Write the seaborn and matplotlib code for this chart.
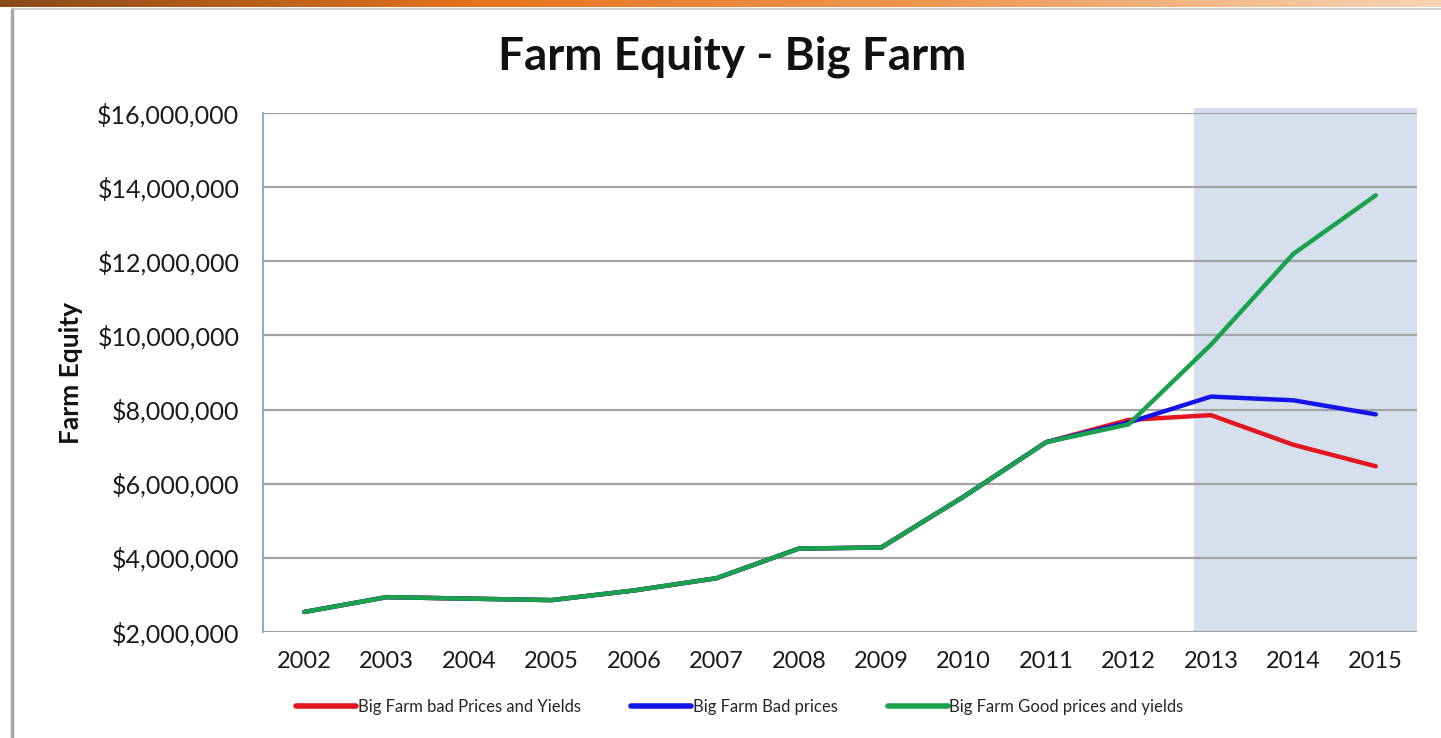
import numpy as np
import pandas as pd
import matplotlib
matplotlib.use("Agg")
import matplotlib.pyplot as plt
import seaborn as sns
from matplotlib.ticker import FuncFormatter
from matplotlib.lines import Line2D
from matplotlib.colors import LinearSegmentedColormap

# ---- data ----
years = [2002, 2003, 2004, 2005, 2006, 2007, 2008, 2009, 2010, 2011, 2012, 2013, 2014, 2015]
bad_prices_yields = [2.54, 2.94, 2.90, 2.86, 3.12, 3.45, 4.25, 4.28, 5.65, 7.12, 7.72, 7.85, 7.05, 6.47]
bad_prices = [2.54, 2.94, 2.90, 2.86, 3.12, 3.45, 4.25, 4.28, 5.65, 7.12, 7.65, 8.35, 8.25, 7.87]
good_prices_yields = [2.54, 2.94, 2.90, 2.86, 3.12, 3.45, 4.25, 4.28, 5.65, 7.12, 7.60, 9.75, 12.2, 13.78]
series_names = ["Big Farm bad Prices and Yields", "Big Farm Bad prices", "Big Farm Good prices and yields"]
series_colors = ["#E3151E", "#1414E8", "#19A24B"]
y_ticks = [2e6, 4e6, 6e6, 8e6, 10e6, 12e6, 14e6, 16e6]
shade_start, shade_end = 2012.8, 2015.5

rows = []
for name, vals in zip(series_names, [bad_prices_yields, bad_prices, good_prices_yields]):
    for y, v in zip(years, vals):
        rows.append({"Year": y, "Equity": v * 1e6, "Series": name})
df = pd.DataFrame(rows)

sns.set_theme(style="white")
plt.rcParams['font.family'] = ['Lato', 'DejaVu Sans']

fig = plt.figure(figsize=(14.41, 7.38), dpi=100)
ax = fig.add_axes([263 / 1441, 1 - 632 / 738, (1417 - 263) / 1441, (632 - 113) / 738])

# shaded forecast region
ax.axvspan(shade_start, shade_end, ymin=0, ymax=1.01, color="#D5DFEE", zorder=0, clip_on=False, lw=0)

for yt in y_ticks:
    ax.axhline(yt, color="#A3A3A3", lw=1.6, zorder=1)

sns.lineplot(data=df, x="Year", y="Equity", hue="Series", palette=dict(zip(series_names, series_colors)),
             hue_order=series_names, linewidth=3.2, ax=ax, legend=False, zorder=3)

ax.set_xlim(2001.5, 2015.5)
ax.set_ylim(2e6, 16e6)
ax.set_xticks(years)
ax.set_xticklabels([str(y) for y in years], fontsize=17, color="#1a1a1a")
ax.set_yticks(y_ticks)
ax.yaxis.set_major_formatter(FuncFormatter(lambda v, p: "${:,.0f}".format(v)))
ax.tick_params(axis="y", labelsize=18, colors="#1a1a1a", length=8, width=1.2, pad=9)
ax.tick_params(axis="y", color="#8AA8D0")
ax.tick_params(axis="x", length=0, pad=14)
for s in ["top", "right", "bottom"]:
    ax.spines[s].set_visible(False)
ax.spines["left"].set_color("#8AA8D0")
ax.spines["left"].set_linewidth(1.4)
ax.set_xlabel("")
ax.set_ylabel("Farm Equity", fontsize=19, fontweight="bold", labelpad=10, color="#111111")

fig.text(0.508, 1 - 57 / 738, "Farm Equity - Big Farm", ha="center", va="center",
         fontsize=33, fontweight="bold", color="#111111")

handles = [Line2D([0], [0], color=c, lw=4) for c in series_colors]
fig.legend(handles, series_names, loc="center", bbox_to_anchor=(0.5135, 1 - 707 / 738), ncol=3,
           frameon=False, fontsize=12, handlelength=3.6, handletextpad=0.1, columnspacing=3.0)

# top orange banner and left border
bax = fig.add_axes([0, 1 - 7 / 738, 1, 7 / 738])
grad = np.linspace(0, 1, 256).reshape(1, -1)
cmap = LinearSegmentedColormap.from_list("banner", ["#8A4A18", "#E5741E", "#EE9A55", "#F8D4B6"])
bax.imshow(grad, aspect="auto", cmap=cmap)
bax.axis("off")
fig.add_artist(Line2D([12 / 1441, 12 / 1441], [0, 1 - 9 / 738], color="#A8A8A8", lw=2.5))
fig.add_artist(Line2D([12 / 1441, 1], [1 - 9 / 738, 1 - 9 / 738], color="#C8C8C8", lw=1.2))

fig.savefig("out.png", dpi=100, facecolor="white")
